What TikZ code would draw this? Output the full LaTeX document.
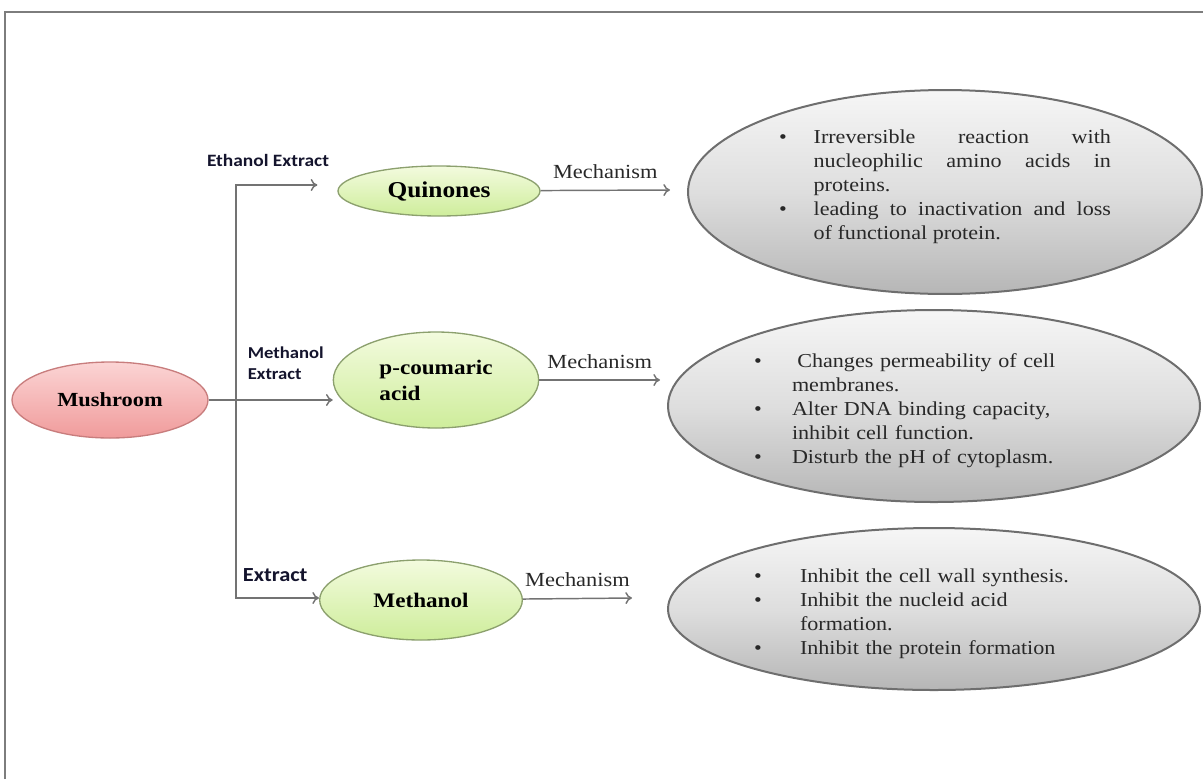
\documentclass[tikz,border=0pt]{standalone}
\usepackage{fontspec}
\setmainfont{Liberation Serif}[FakeStretch=1.12]
\newfontfamily\lblfont{Carlito}[FakeStretch=1.12]
\usetikzlibrary{shapes.geometric,arrows.meta}

\definecolor{framegray}{RGB}{125,125,125}
\definecolor{wiregray}{RGB}{115,115,115}
\definecolor{mushtop}{RGB}{251,212,212}
\definecolor{mushbot}{RGB}{240,155,155}
\definecolor{mushedge}{RGB}{200,125,125}
\definecolor{greentop}{RGB}{243,251,222}
\definecolor{greenbot}{RGB}{206,237,155}
\definecolor{greenedge}{RGB}{140,160,110}
\definecolor{graytop}{RGB}{246,246,246}
\definecolor{graymid}{RGB}{222,222,222}
\definecolor{graybot}{RGB}{182,182,182}
\definecolor{grayedge}{RGB}{110,110,110}
\definecolor{bodytext}{RGB}{40,40,40}
\definecolor{lbltext}{RGB}{20,20,45}

% one bullet line with hanging indent
\newcommand{\bul}[2]{\par\hangindent=#1\hangafter=1\noindent\makebox[#1][l]{\textbullet}#2}

\tikzset{every picture/.style={line width=0.75pt},
  wire/.style={draw=wiregray, line width=1.1pt},
  flow/.style={wire, -{To[length=5pt,width=9pt]}},
  mushnode/.style={ellipse, draw=mushedge, line width=1pt, top color=mushtop, bottom color=mushbot,
    minimum width=147pt, minimum height=57pt, inner sep=0pt,
    font=\fontsize{15}{18}\selectfont\bfseries},
  extnode/.style={ellipse, draw=greenedge, line width=1pt, top color=greentop, bottom color=greenbot,
    minimum width=152pt, inner sep=0pt, font=\fontsize{15.5}{19.5}\selectfont\bfseries},
  mechnode/.style={ellipse, draw=grayedge, line width=1.5pt, top color=graytop, bottom color=graybot,
    middle color=graymid, inner sep=0pt, text=bodytext, font=\fontsize{14.8}{18}\selectfont},
  mechlbl/.style={above=6pt, inner sep=2pt, text=bodytext, font=\fontsize{15}{18}\selectfont},
  lblnode/.style={inner sep=1pt, text=lbltext, font=\lblfont\bfseries\fontsize{13}{15.5}\selectfont}
}

\begin{document}
\begin{tikzpicture}[x=0.75pt,y=0.75pt,yscale=-1,xscale=1]
\useasboundingbox (0,0) rectangle (1203,779);

%Frame
\draw [framegray, line width=1.5pt] (5,779) -- (5,12) -- (1203,12) ;

%Source
\node [mushnode] (mush) at (110,400) {Mushroom};

%Extracts
\node [extnode, minimum width=151.5pt, minimum height=37.5pt, font=\fontsize{17}{20}\selectfont\bfseries] (quin) at (439,191) {Quinones};
\node [extnode, minimum width=154pt, minimum height=72pt, align=left] (pcou) at (436,380) {p-coumaric\\acid};
\node [extnode, minimum height=60pt] (meth) at (421,600) {Methanol};

%Mechanisms
\node [mechnode, minimum width=385.5pt, minimum height=151pt, text width=249pt, align=justify] (mechA) at (945,192)
  {\bul{26pt}{Irreversible reaction with\linebreak nucleophilic amino acids in\linebreak proteins.}%
   \bul{26pt}{leading to inactivation and loss\linebreak of functional protein.}\par\vspace*{15pt}};
\node [mechnode, minimum width=399pt, minimum height=144pt, text width=270pt, align=left] (mechB) at (934,406)
  {\bul{28.5pt}{\hspace{4pt}Changes permeability of cell\newline membranes.}%
   \bul{28.5pt}{Alter DNA binding capacity,\newline inhibit cell function.}%
   \bul{28.5pt}{Disturb the pH of cytoplasm.}};
\node [mechnode, minimum width=399pt, minimum height=121.5pt, text width=270pt, align=left] (mechC) at (934,609)
  {\bul{34.5pt}{Inhibit the cell wall synthesis.}%
   \bul{34.5pt}{Inhibit the nucleid acid\newline formation.}%
   \bul{34.5pt}{Inhibit the protein formation}};

% Text Node
\node [lblnode] (lblEth) at (268,160) {Ethanol Extract};
% Text Node
\node [lblnode, anchor=west, align=left, font=\lblfont\bfseries\fontsize{12.5}{15.5}\selectfont] (lblMeth) at (246,363) {Methanol\\Extract};
% Text Node
\node [lblnode, anchor=west, font=\lblfont\bfseries\fontsize{15}{18}\selectfont] (lblExt) at (241,575) {Extract};

%Branch lines
\coordinate (fork) at (236,400);
\coordinate (jtop) at (236,185);
\coordinate (jbot) at (236,598);
\draw [flow] (mush.east |- fork) -- (fork -| pcou.west) ;
\draw [flow] (jbot) |- ([xshift=-15pt]jtop -| quin.west) ;
\draw [flow] (jtop) |- (jbot -| meth.west) ;

%Mechanism arrows
\coordinate (tipA) at (670,190);
\coordinate (tipB) at (660,380);
\coordinate (tipC) at (632,598);
\draw [flow] (quin) -- node [mechlbl] {Mechanism} (tipA) ;
\draw [flow] (pcou) -- node [mechlbl] {Mechanism} (tipB) ;
\draw [flow] (meth) -- node [mechlbl] {Mechanism} (tipC) ;

\end{tikzpicture}
\end{document}
